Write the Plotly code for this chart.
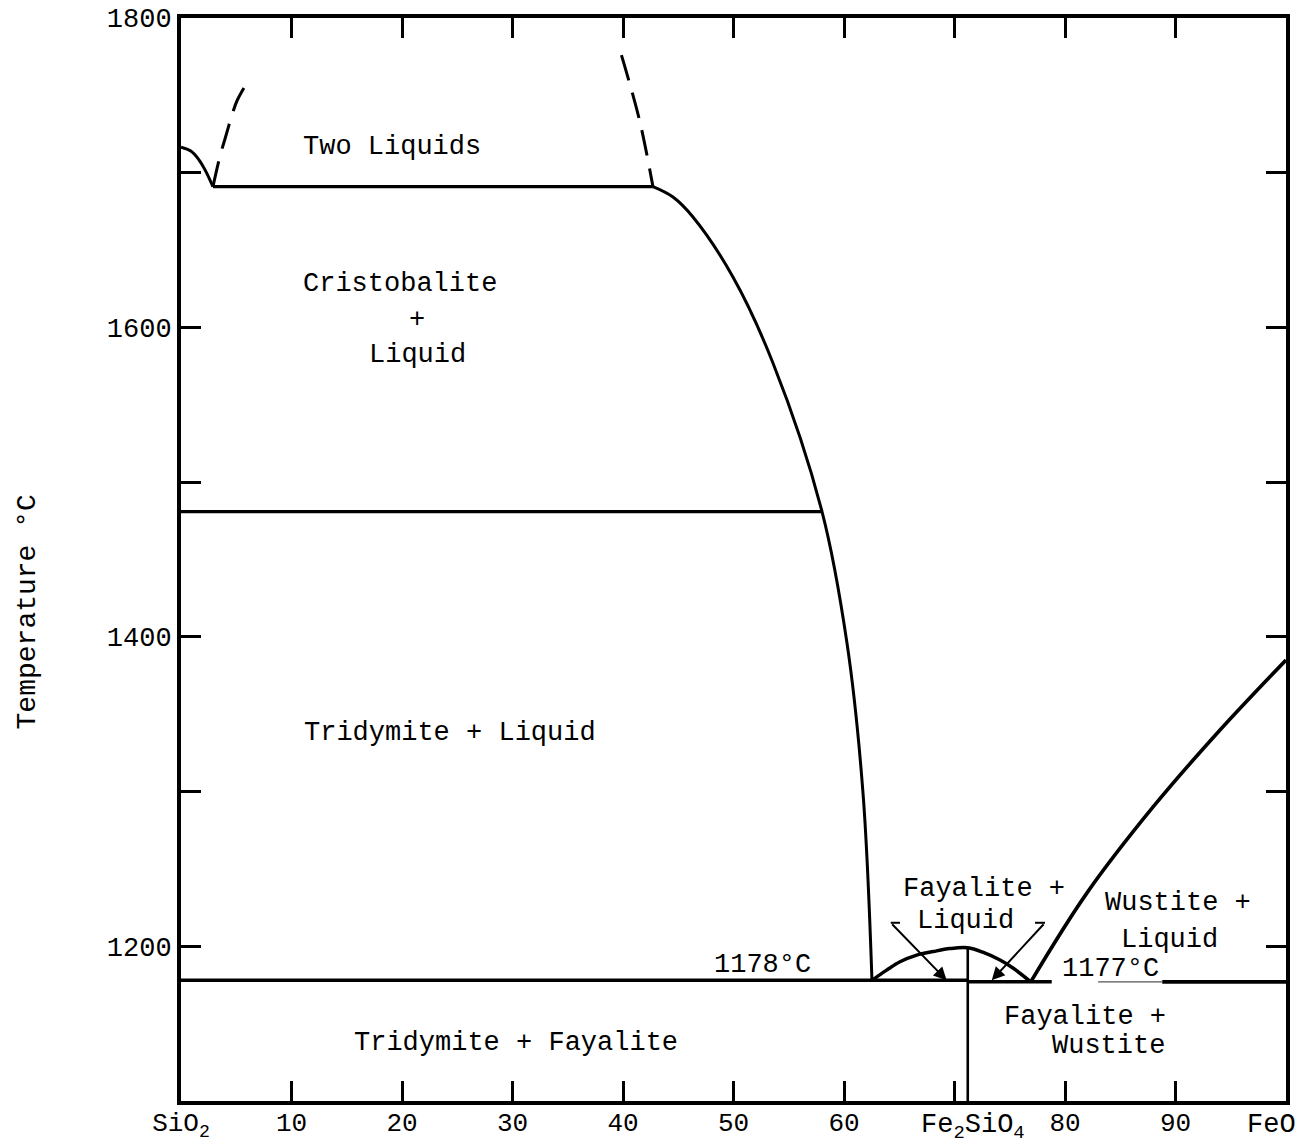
import plotly.graph_objects as go

# Composition in wt% FeO (0 = SiO2, 100 = FeO), temperature in °C
cristobalite_x = [0.0, 0.89, 1.61, 2.2, 2.89]
cristobalite_t = [1716.5, 1714.0, 1708.5, 1701.5, 1691.0]

gap_left_x = [2.89, 3.53, 3.98, 4.67, 5.1, 6.3]
gap_left_t = [1691.0, 1710.8, 1721.8, 1738.6, 1747.0, 1762.0]

gap_right_x = [39.86, 41.5, 42.71]
gap_right_t = [1776.0, 1733.7, 1691.0]

monotectic_x = [2.89, 42.71]
monotectic_t = [1691.0, 1691.0]

liquidus_x = [42.71, 44.52, 46.33, 49.95, 53.57, 58.01, 60.27, 61.72, 62.53]
liquidus_t = [1691.0, 1684.3, 1671.4, 1632.6, 1577.0, 1481.0, 1396.0, 1299.0, 1178.0]

inversion_x = [0.0, 58.01]
inversion_t = [1481.0, 1481.0]

fayalite_x = [62.53, 63.86, 65.07, 66.58, 68.08, 69.59, 71.2, 72.61, 74.12, 75.32, 76.9]
fayalite_t = [1178.0, 1184.6, 1190.0, 1194.3, 1196.6, 1198.5, 1199.0, 1196.0,
              1191.1, 1185.8, 1177.0]

fe2sio4_x = [71.2, 71.2]
fe2sio4_t = [1100.0, 1199.0]

wustite_x = [76.9, 81.96, 87.99, 94.03, 100.0]
wustite_t = [1177.0, 1234.2, 1290.2, 1339.8, 1385.0]

eutectic_left_x = [0.0, 71.2]
eutectic_left_t = [1178.0, 1178.0]
eutectic_right_x = [71.2, 78.8]
eutectic_right2_x = [88.8, 100.0]
eutectic_right_t = [1177.0, 1177.0]
eutectic_under_x = [83.0, 88.8]

# Axis ticks
x_tickvals = [0, 10, 20, 30, 40, 50, 60, 70, 80, 90, 100]
x_ticktext = ["SiO<sub>2</sub>", "10", "20", "30", "40", "50", "60", "", "80", "90", ""]
y_tickvals = [1200, 1300, 1400, 1500, 1600, 1700, 1800]
y_ticktext = ["1200", "", "1400", "", "1600", "", "1800"]

# Field labels: (text, x, T)
field_labels = [
    ("Two Liquids", 19.1, 1716.6),
    ("Cristobalite", 19.82, 1628.1),
    ("+", 21.36, 1604.8),
    ("Liquid", 21.36, 1582.2),
    ("Tridymite + Liquid", 24.34, 1337.8),
    ("Tridymite + Fayalite", 30.32, 1137.4),
    ("1178°C", 52.58, 1187.8),
    ("Fayalite +", 72.67, 1237.0),
    ("Liquid", 71.04, 1216.3),
    ("Wustite +", 90.23, 1227.9),
    ("Liquid", 89.5, 1204.0),
    ("1177°C", 84.16, 1185.3),
    ("Fayalite +", 81.81, 1154.2),
    ("Wustite", 83.98, 1135.5),
]

# Pointer arrows from the "Fayalite + Liquid" label: stub, tail, tip
arrow_stubs_x = [[64.23, 65.07], [77.29, 78.19]]
arrow_stub_t = 1215.2
arrow_tails_x = [64.23, 78.19]
arrow_tips_x = [69.29, 73.37]
arrow_tip_t = 1178.0

FONT = "Liberation Mono, Courier New, monospace"
INK = "#000000"

fig = go.Figure()


def add_line(x, y, width=3.0, dash="solid", smooth=False, color=INK):
    fig.add_trace(go.Scatter(
        x=x, y=y, mode="lines",
        line=dict(color=color, width=width, dash=dash,
                  shape="spline" if smooth else "linear", smoothing=1.0),
        hoverinfo="skip", showlegend=False,
    ))


add_line(cristobalite_x, cristobalite_t, width=3, smooth=True)
add_line(gap_left_x, gap_left_t, width=3, dash="26px,13px", smooth=True)
add_line(gap_right_x, gap_right_t, width=3, dash="26px,13px", smooth=True)
add_line(monotectic_x, monotectic_t, width=3.2)
add_line(liquidus_x, liquidus_t, width=3, smooth=True)
add_line(inversion_x, inversion_t, width=3.2)
add_line(eutectic_left_x, eutectic_left_t, width=3.5)
add_line(eutectic_right_x, eutectic_right_t, width=3.5)
add_line(eutectic_right2_x, eutectic_right_t, width=3.8)
add_line(eutectic_under_x, eutectic_right_t, width=1.2, color="#555555")
add_line(fayalite_x, fayalite_t, width=3.5, smooth=True)
add_line(fe2sio4_x, fe2sio4_t, width=2.6)
add_line(wustite_x, wustite_t, width=3.6, smooth=True)
for sx in arrow_stubs_x:
    add_line(sx, [arrow_stub_t, arrow_stub_t], width=2)

annotations = []
for text, x, t in field_labels:
    annotations.append(dict(
        x=x, y=t, xref="x", yref="y", text=text, showarrow=False,
        xanchor="center", yanchor="middle",
        font=dict(family=FONT, size=27, color=INK),
    ))

for tail_x, tip_x in zip(arrow_tails_x, arrow_tips_x):
    annotations.append(dict(
        x=tip_x, y=arrow_tip_t, ax=tail_x, ay=arrow_stub_t,
        xref="x", yref="y", axref="x", ayref="y", text="",
        showarrow=True, arrowhead=2, arrowsize=1.3, arrowwidth=2,
        arrowcolor=INK, standoff=0, startstandoff=0,
    ))

# Compound labels on the composition axis
annotations.append(dict(
    x=71.7, y=0, xref="x", yref="paper", yanchor="top", yshift=-7,
    text="Fe<sub>2</sub>SiO<sub>4</sub>", showarrow=False,
    font=dict(family=FONT, size=27, color=INK),
))
annotations.append(dict(
    x=98.73, y=0, xref="x", yref="paper", yanchor="top", yshift=-7,
    text="FeO", showarrow=False,
    font=dict(family=FONT, size=27, color=INK),
))
# Temperature axis title
annotations.append(dict(
    x=-0.1390, y=0.4515, xref="paper", yref="paper",
    text="Temperature °C", textangle=-90, showarrow=False,
    xanchor="center", yanchor="middle",
    font=dict(family=FONT, size=28, color=INK),
))

fig.update_layout(
    width=1304, height=1144,
    margin=dict(l=181, r=18, t=18, b=43, autoexpand=False),
    paper_bgcolor="white", plot_bgcolor="white",
    annotations=annotations,
    font=dict(family=FONT, size=27, color=INK),
)

fig.update_xaxes(
    range=[0, 100], tickvals=x_tickvals, ticktext=x_ticktext,
    ticks="inside", ticklen=20, tickwidth=3, tickcolor=INK,
    showline=True, linewidth=4, linecolor=INK, mirror="ticks",
    showgrid=False, zeroline=False, ticklabelstandoff=-5, automargin=False,
    tickfont=dict(family=FONT, size=26, color=INK),
)
fig.update_yaxes(
    range=[1100, 1800], tickvals=y_tickvals, ticktext=y_ticktext,
    ticks="inside", ticklen=20, tickwidth=3, tickcolor=INK,
    showline=True, linewidth=4, linecolor=INK, mirror="ticks",
    showgrid=False, zeroline=False, ticklabelstandoff=0, automargin=False,
    tickfont=dict(family=FONT, size=27, color=INK),
)

fig.write_html("out.html")
